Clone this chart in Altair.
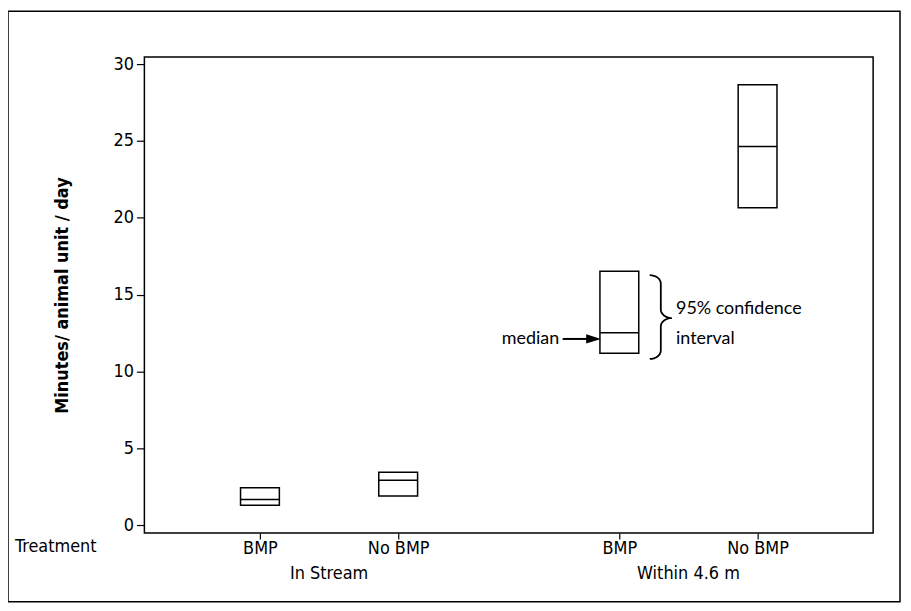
import altair as alt
import numpy as np
import pandas as pd

# ---- data ----
locations = ["In Stream", "In Stream", "Within 4.6 m", "Within 4.6 m"]
treatments = ["BMP", "No BMP", "BMP", "No BMP"]
ci_low = [1.30, 1.90, 11.19, 20.65]
median = [1.68, 2.93, 12.53, 24.63]
ci_high = [2.44, 3.45, 16.53, 28.65]
group_names = ["In Stream", "Within 4.6 m"]
treatment_names = ["BMP", "No BMP"]
y_ticks = [0, 5, 10, 15, 20, 25, 30]
y_title = "Minutes/ animal unit / day"
row_label = "Treatment"
ann_median = "median"
ann_ci = ["95% confidence", "interval"]

# ---- layout helpers ----
GAP = 2.6  # distance between first boxes of the two groups (in slot units)
xpos = []
for loc, trt in zip(locations, treatments):
    gi = group_names.index(loc)
    ii = treatment_names.index(trt)
    xpos.append(round(1 + gi * GAP + ii, 3))

df = pd.DataFrame({
    "location": locations,
    "treatment": treatments,
    "lo": ci_low,
    "med": median,
    "hi": ci_high,
    "x": xpos,
})

groups = pd.DataFrame({
    "name": group_names,
    "x": [float(np.mean([p for p, l in zip(xpos, locations) if l == g])) for g in group_names],
})

label_map = "{" + ", ".join(f"'{p:g}': '{t}'" for p, t in zip(xpos, treatments)) + "}"

FONT = "DejaVu Sans Condensed, DejaVu Sans"
ANN_FONT = "Lato"
W, H = 732, 478

xs = alt.Scale(domain=[0.2, 5.4], nice=False, zero=False)
ys = alt.Scale(domain=[-0.5, 30.45], nice=False, zero=False)

X = alt.X("x:Q", scale=xs, axis=alt.Axis(
    values=xpos, labelExpr=f"{label_map}[''+datum.value]", title=None,
    grid=False, domain=False, tickSize=6, tickColor="black", tickWidth=1.2,
    labelFont=FONT, labelFontSize=18, labelColor="black", labelPadding=1))
Y = alt.Y("lo:Q", scale=ys, axis=alt.Axis(
    values=y_ticks, title=y_title, grid=False, domain=False, tickSize=8,
    tickColor="black", tickWidth=1.2, labelFont=FONT, labelFontSize=18,
    labelColor="black", labelPadding=3, titleFont=FONT, titleFontSize=18,
    titleFontWeight="bold", titleColor="black", titlePadding=42))

base = alt.Chart(df)

boxes = base.mark_bar(size=39, fill="white", stroke="black", strokeWidth=1.5).encode(
    x=X, y=Y, y2="hi:Q")

medians = base.mark_tick(orient="horizontal", size=39, thickness=1.5, color="black", opacity=1).encode(
    x="x:Q", y="med:Q")

# frame around the whole figure
frame = alt.Chart(pd.DataFrame({"k": [0]})).mark_rect(
    filled=False, stroke="black", strokeWidth=1.5).encode(
    x=alt.value(-137), x2=alt.value(759), y=alt.value(-46), y2=alt.value(547))

group_text = alt.Chart(groups).mark_text(
    font=FONT, fontSize=18, color="black", baseline="middle").encode(
    x="x:Q", y=alt.value(519), text="name:N")

row_text = alt.Chart(pd.DataFrame({"t": [row_label]})).mark_text(
    font=FONT, fontSize=18, color="black", align="left", baseline="middle").encode(
    x=alt.value(-130), y=alt.value(492), text="t:N")

# annotation: median arrow
arrow_df = pd.DataFrame({"x": [3.19], "x2": [3.414], "y": [12.12]})
arrow_line = alt.Chart(arrow_df).mark_rule(color="black", strokeWidth=2).encode(
    x="x:Q", x2="x2:Q", y="y:Q")
arrow_head = alt.Chart(arrow_df).mark_point(
    shape="M -1 -0.62 L 1 0 L -1 0.62 Z", size=225, filled=True, color="black", opacity=1).encode(
    x="x2:Q", y="y:Q")
median_text = alt.Chart(pd.DataFrame({"x": [3.165], "y": [12.12], "t": [ann_median]})).mark_text(
    font=ANN_FONT, fontSize=18, color="black", align="right", baseline="middle").encode(
    x="x:Q", y="y:Q", text="t:N")

ci_text = alt.Chart(pd.DataFrame({"x": [4.01, 4.01], "y": [14.06, 12.12], "t": ann_ci})).mark_text(
    font=ANN_FONT, fontSize=18, color="black", align="left", baseline="middle").encode(
    x="x:Q", y="y:Q", text="t:N")

# curly brace shape
xl, xt = 3.82, 3.98
xm = (xl + xt) / 2
ytop, ybot, ymid = 16.27, 10.82, 13.48
rx, ry = xm - xl, 0.55
t = np.linspace(0, np.pi / 2, 9)
pts = []
pts += [(xl + rx * np.sin(a), ytop - ry + ry * np.cos(a)) for a in t]
pts += [(xt - rx * np.cos(a), ymid + ry - ry * np.sin(a)) for a in t]
pts += [(xt - rx * np.sin(a), ymid - ry + ry * np.cos(a)) for a in t[1:]]
pts += [(xl + rx * np.cos(a), ybot + ry - ry * np.sin(a)) for a in t]
brace_df = pd.DataFrame({"x": [p[0] for p in pts], "y": [p[1] for p in pts], "o": range(len(pts))})
brace = alt.Chart(brace_df).mark_line(color="black", strokeWidth=1.8).encode(
    x="x:Q", y="y:Q", order="o:Q")

chart = alt.layer(
    boxes, medians, frame, group_text, row_text,
    arrow_line, arrow_head, median_text, ci_text, brace
).properties(
    width=W, height=H,
    autosize=alt.AutoSizeParams(type="none"),
    padding={"left": 137, "top": 48, "right": 30, "bottom": 70},
).configure(background="white").configure_view(stroke="black", strokeWidth=1.5)

chart.save("out.html", embed_options={"renderer": "svg", "actions": False})
